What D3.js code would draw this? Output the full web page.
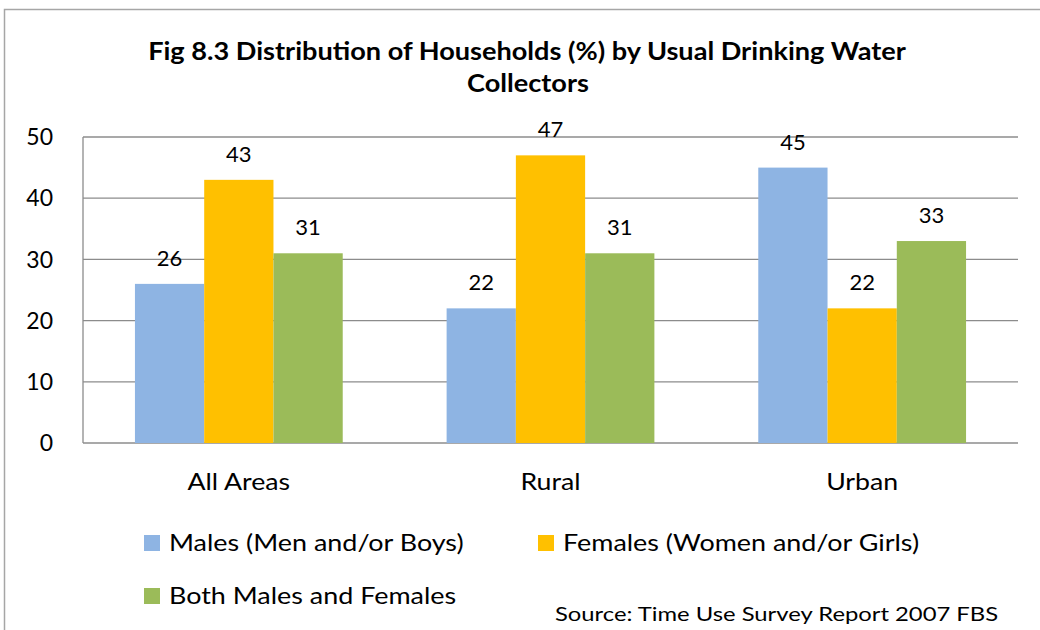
<!DOCTYPE html>
<meta charset="utf-8">
<script src="https://d3js.org/d3.v7.min.js"></script>
<style>
  body { margin: 0; background: #fff; }
  text { font-family: Lato, "Open Sans", sans-serif; fill: #000; }
</style>
<div id="my_dataviz"></div>
<script>

// data
var categories = ["All Areas", "Rural", "Urban"];
var seriesNames = ["Males (Men and/or Boys)", "Females (Women and/or Girls)", "Both Males and Females"];
var males   = [26, 22, 45];
var females = [43, 47, 22];
var both    = [31, 31, 33];
var yTicks  = [0, 10, 20, 30, 40, 50];
var colors  = ["#8EB4E3", "#FFC000", "#9BBB59"];

var W = 1040, H = 630;
var margin = {top: 137, right: 22, bottom: 187, left: 83},
    width = W - margin.left - margin.right,
    height = H - margin.top - margin.bottom;

// Lato is narrower than the original font, so widen word labels a bit
function widen(sel, k) {
  sel.each(function() {
    var w = this.getComputedTextLength();
    this.setAttribute("textLength", w * k);
    this.setAttribute("lengthAdjust", "spacingAndGlyphs");
  });
}

var svgRoot = d3.select("#my_dataviz")
  .append("svg")
    .attr("width", W)
    .attr("height", H);

// chart frame
svgRoot.append("rect")
    .attr("x", 4.5).attr("y", 9.5)
    .attr("width", W + 20).attr("height", H + 20)
    .attr("fill", "none")
    .attr("stroke", "#a6a6a6")
    .attr("stroke-width", 1.5);

// title
var title = svgRoot.append("text")
    .attr("text-anchor", "middle")
    .style("font-weight", "bold")
    .style("font-size", "24px");
title.append("tspan").attr("x", 527).attr("y", 60).text("Fig 8.3 Distribution of Households (%) by Usual Drinking Water");
title.append("tspan").attr("x", 528).attr("y", 92).text("Collectors");
widen(title.selectAll("tspan"), 1.13);

var svg = svgRoot.append("g")
    .attr("transform", "translate(" + margin.left + "," + margin.top + ")");

var x0 = d3.scaleBand()
    .domain(categories)
    .range([0, width])
    .paddingInner(0)
    .paddingOuter(0);

var x1 = d3.scaleBand()
    .domain([0, 1, 2])
    .range([x0.bandwidth() / 6, x0.bandwidth() * 5 / 6]);

var y = d3.scaleLinear()
    .domain([0, 50])
    .range([height, 0]);

// gridlines
svg.selectAll(".grid")
  .data(yTicks)
  .enter().append("line")
    .attr("x1", 0).attr("x2", width)
    .attr("y1", function(d) { return y(d); })
    .attr("y2", function(d) { return y(d); })
    .attr("stroke", "#8c8c8c")
    .attr("stroke-width", 1.3);

// left axis line
svg.append("line")
    .attr("x1", 0).attr("x2", 0)
    .attr("y1", 0).attr("y2", height)
    .attr("stroke", "#8c8c8c")
    .attr("stroke-width", 1.3);

// y tick labels
svg.selectAll(".ylab")
  .data(yTicks)
  .enter().append("text")
    .attr("x", -30)
    .attr("y", function(d) { return y(d); })
    .attr("dy", "0.36em")
    .attr("text-anchor", "end")
    .style("font-size", "23px")
    .text(function(d) { return d; });

var series = [males, females, both];

var groups = svg.selectAll(".grp")
  .data(categories)
  .enter().append("g")
    .attr("transform", function(d) { return "translate(" + x0(d) + ",0)"; });

groups.selectAll("rect")
  .data(function(d, i) { return series.map(function(s, k) { return {k: k, v: s[i]}; }); })
  .enter().append("rect")
    .attr("x", function(d) { return x1(d.k); })
    .attr("width", x1.bandwidth())
    .attr("y", function(d) { return y(d.v); })
    .attr("height", function(d) { return height - y(d.v); })
    .attr("fill", function(d) { return colors[d.k]; });

groups.selectAll(".val")
  .data(function(d, i) { return series.map(function(s, k) { return {k: k, v: s[i]}; }); })
  .enter().append("text")
    .attr("x", function(d) { return x1(d.k) + x1.bandwidth() / 2; })
    .attr("y", function(d) { return y(d.v) - 18; })
    .attr("text-anchor", "middle")
    .style("font-size", "22px")
    .text(function(d) { return d.v; });

// category labels
var cats = svg.selectAll(".cat")
  .data(categories)
  .enter().append("text")
    .attr("x", function(d) { return x0(d) + x0.bandwidth() / 2; })
    .attr("y", height + 47)
    .attr("text-anchor", "middle")
    .style("font-size", "23px")
    .text(function(d) { return d; });
widen(cats, 1.16);

// legend
var legendPos = [[144, 535], [538, 535], [144, 588]];
var legend = svgRoot.selectAll(".leg")
  .data(seriesNames)
  .enter().append("g")
    .attr("transform", function(d, i) { return "translate(" + legendPos[i][0] + "," + legendPos[i][1] + ")"; });

legend.append("rect")
    .attr("width", 16).attr("height", 16)
    .attr("fill", function(d, i) { return colors[i]; });

var legText = legend.append("text")
    .attr("x", 25)
    .attr("y", 8)
    .attr("dy", "0.36em")
    .style("font-size", "23px")
    .text(function(d) { return d; });
widen(legText, 1.17);

// source note
var src = svgRoot.append("text")
    .attr("x", 555)
    .attr("y", 621)
    .style("font-size", "20px")
    .text("Source: Time Use Survey Report 2007 FBS");
widen(src, 1.19);

</script>
